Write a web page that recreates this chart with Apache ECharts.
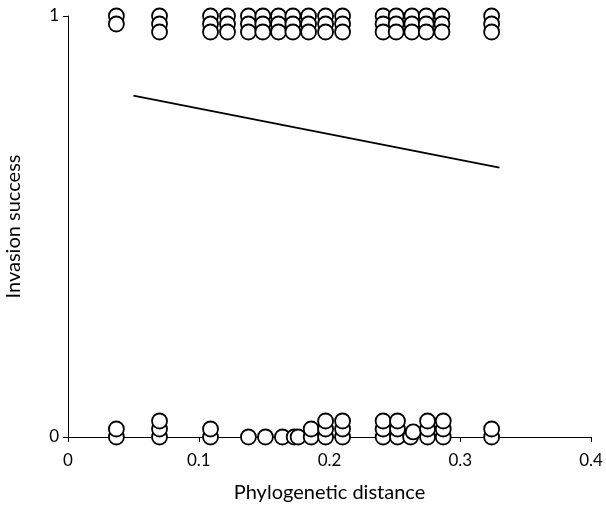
<!DOCTYPE html>
<html lang="en">
<head>
<meta charset="UTF-8">
<title>Invasion success</title>
<script src="https://cdn.jsdelivr.net/npm/echarts@6/dist/echarts.min.js"></script>
<style>
  body { margin: 0; background: #fff; }
  #chart { width: 606px; height: 512px; }
</style>
</head>
<body>
<div id="chart"></div>
<script>
// successful invasions (y = 1, stacked downward where several share an x)
var topX = [0.037, 0.037,
  0.070, 0.070, 0.070, 0.109, 0.109, 0.109, 0.122, 0.122, 0.122,
  0.138, 0.138, 0.138, 0.149, 0.149, 0.149, 0.161, 0.161, 0.161,
  0.172, 0.172, 0.172, 0.184, 0.184, 0.184, 0.197, 0.197, 0.197,
  0.210, 0.210, 0.210, 0.241, 0.241, 0.241, 0.251, 0.251, 0.251,
  0.263, 0.263, 0.263, 0.274, 0.274, 0.274, 0.286, 0.286, 0.286,
  0.324, 0.324, 0.324];
var topY = [1, 0.981,
  1, 0.981, 0.962, 1, 0.981, 0.962, 1, 0.981, 0.962,
  1, 0.981, 0.962, 1, 0.981, 0.962, 1, 0.981, 0.962,
  1, 0.981, 0.962, 1, 0.981, 0.962, 1, 0.981, 0.962,
  1, 0.981, 0.962, 1, 0.981, 0.962, 1, 0.981, 0.962,
  1, 0.981, 0.962, 1, 0.981, 0.962, 1, 0.981, 0.962,
  1, 0.981, 0.962];

// failed invasions (y = 0, stacked upward)
var botX = [0.037, 0.037, 0.070, 0.070, 0.070, 0.109, 0.109,
  0.138, 0.151, 0.164, 0.173, 0.176, 0.186, 0.186,
  0.197, 0.197, 0.197, 0.210, 0.210, 0.210,
  0.241, 0.241, 0.241, 0.252, 0.252, 0.252, 0.262, 0.264,
  0.275, 0.275, 0.275, 0.287, 0.287, 0.287, 0.324, 0.324];
var botY = [0, 0.019, 0, 0.019, 0.038, 0, 0.019,
  0, 0, 0, 0, 0, 0, 0.019,
  0, 0.019, 0.038, 0, 0.019, 0.038,
  0, 0.019, 0.038, 0, 0.019, 0.038, 0, 0.012,
  0, 0.019, 0.038, 0, 0.019, 0.038, 0, 0.019];

// fitted line end points
var fitX = [0.05, 0.33];
var fitY = [0.811, 0.640];

var xTicks = [0, 0.1, 0.2, 0.3, 0.4];
var yTicks = [0, 1];

function pairs(xs, ys) {
  return xs.map(function (x, i) { return [x, ys[i]]; });
}

var font = 'Lato, "Open Sans", sans-serif';
var chart = echarts.init(document.getElementById('chart'));

var dot = {
  type: 'scatter',
  symbol: 'circle',
  symbolSize: 15,
  clip: false,
  itemStyle: { color: '#fff', borderColor: '#000', borderWidth: 1.8, opacity: 1 },
  silent: true
};

chart.setOption({
  animation: false,
  backgroundColor: '#fff',
  grid: { left: 68, right: 15, top: 16, bottom: 75, outerBoundsMode: 'none' },
  xAxis: {
    type: 'value',
    min: xTicks[0],
    max: xTicks[xTicks.length - 1],
    interval: 0.1,
    name: 'Phylogenetic distance',
    nameLocation: 'middle',
    nameGap: 46,
    nameTextStyle: { fontFamily: font, fontSize: 20, color: '#000' },
    axisLine: { onZero: false, lineStyle: { color: '#000', width: 1 } },
    axisTick: { show: true, length: 5, lineStyle: { color: '#000' } },
    axisLabel: { fontFamily: font, fontSize: 17, color: '#000', margin: 15 },
    splitLine: { show: false }
  },
  yAxis: {
    type: 'value',
    min: yTicks[0],
    max: yTicks[1],
    interval: 1,
    name: 'Invasion success',
    nameLocation: 'middle',
    nameRotate: 90,
    nameGap: 44,
    nameTextStyle: { fontFamily: font, fontSize: 20, color: '#000' },
    axisLine: { show: true, onZero: false, lineStyle: { color: '#000', width: 1 } },
    axisTick: { show: true, length: 5, lineStyle: { color: '#000' } },
    axisLabel: { fontFamily: font, fontSize: 17, color: '#000', margin: 9 },
    splitLine: { show: false }
  },
  series: [
    Object.assign({ data: pairs(topX, topY) }, dot),
    Object.assign({ data: pairs(botX, botY) }, dot),
    {
      type: 'line',
      data: pairs(fitX, fitY),
      symbol: 'none',
      silent: true,
      lineStyle: { color: '#000', width: 1.8 }
    }
  ]
});
</script>
</body>
</html>
